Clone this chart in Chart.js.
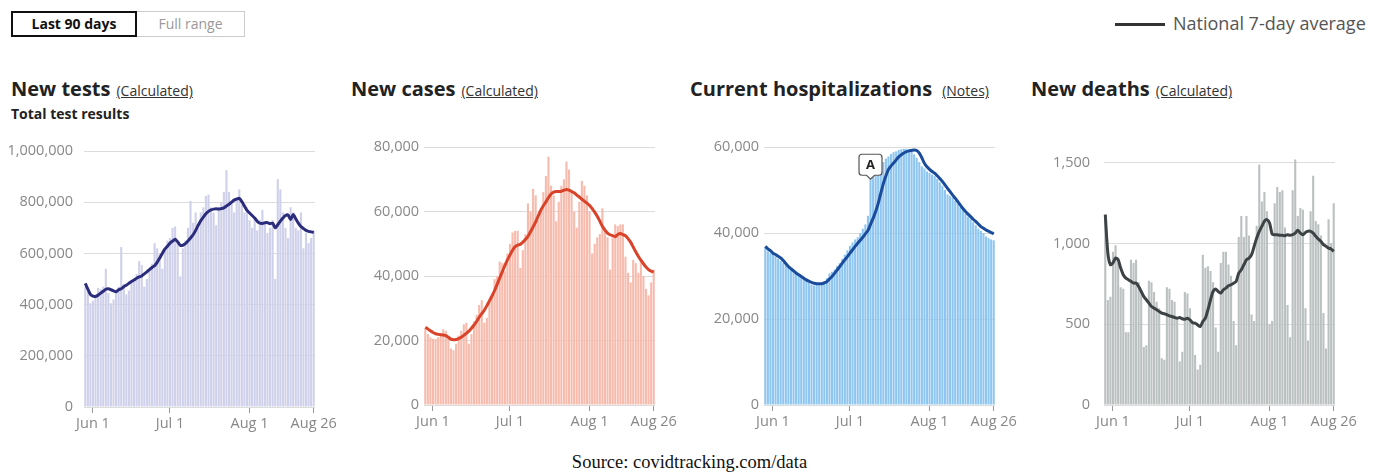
<!DOCTYPE html>
<html>
<head>
<meta charset="utf-8">
<script src="https://cdn.jsdelivr.net/npm/chart.js@4.4.1/dist/chart.umd.min.js"></script>
<style>
body{margin:0;width:1379px;height:475px;background:#fff;font-family:"Open Sans",sans-serif;position:relative;overflow:hidden}
.box{position:absolute;top:130px;width:345px;height:310px}
.t{position:absolute;top:75px;font-size:20px;font-weight:700;color:#222;white-space:nowrap}
.t span{font-size:14px;font-weight:400;color:#333;text-decoration:underline;margin-left:6px}
.sub{position:absolute;left:11px;top:104px;font-size:14px;font-weight:700;color:#222}
.b1{position:absolute;left:11px;top:11px;width:122px;height:22px;border:2px solid #111;font-size:14px;font-weight:700;color:#111;text-align:center;line-height:22px}
.b2{position:absolute;left:137px;top:11px;width:107px;height:24px;border:1px solid #ccc;border-left:none;font-size:14px;color:#999;text-align:center;line-height:24px}
.lg{position:absolute;left:1115px;top:23px;width:50px;height:2.5px;background:#333}
.lt{position:absolute;left:1173px;top:11px;font-size:18px;color:#555}
.src{position:absolute;left:0;top:452px;width:1379px;text-align:center;font-family:"Liberation Serif",serif;font-size:18.5px;color:#111}
</style>
</head>
<body>
<div class="b1">Last 90 days</div>
<div class="b2">Full range</div>
<div class="lg"></div>
<div class="lt">National 7-day average</div>

<div class="t" style="left:11px">New tests<span>(Calculated)</span></div>
<div class="sub">Total test results</div>
<div class="t" style="left:351px">New cases<span>(Calculated)</span></div>
<div class="t" style="left:690px">Current hospitalizations<span style="margin-left:10px">(Notes)</span></div>
<div class="t" style="left:1031px">New deaths<span>(Calculated)</span></div>

<div class="box" style="left:0px"><canvas id="c1"></canvas></div>
<div class="box" style="left:340px"><canvas id="c2"></canvas></div>
<div class="box" style="left:680px"><canvas id="c3"></canvas></div>
<!-- wider tick padding pushes the plot down, so this box starts a little higher -->
<div class="box" style="left:1020px;top:124px;height:316px"><canvas id="c4"></canvas></div>

<div class="src">Source: covidtracking.com/data</div>

<script>
// 90 days, May 29 - Aug 26 2020
const startDay = new Date(2020, 4, 29);
const monthNames = ["Jan","Feb","Mar","Apr","May","Jun","Jul","Aug","Sep","Oct","Nov","Dec"];
const tickDays = ["Jun 1","Jul 1","Aug 1","Aug 26"];

// new tests, thousands
const testsBars = [470,450,405,415,430,465,460,470,540,445,405,420,450,470,625,480,440,455,490,500,
520,570,555,470,500,530,560,640,620,600,540,610,650,660,700,705,650,510,620,650,
700,805,720,760,700,760,780,825,830,780,760,710,780,800,840,925,840,800,760,820,
850,790,760,780,730,700,740,690,730,770,720,680,700,730,500,890,850,760,700,660,
780,760,700,690,760,620,680,640,660,690];
const testsAvg = [483,460,440,433,432,437,445,452,460,462,458,454,450,458,462,470,476,483,490,496,
503,508,512,520,528,537,545,552,565,582,600,617,628,640,648,655,645,632,632,638,
648,660,673,690,710,728,742,755,764,770,773,774,773,775,778,785,792,800,808,812,
815,802,785,768,758,748,738,725,718,717,720,720,716,718,700,712,726,738,748,750,
732,752,735,718,705,697,690,686,684,682];
const testsTicks = [0,200000,400000,600000,800000,1000000];

// new cases, thousands
const casesBars = [23.5,22,21,20.5,20.5,21,22,23.5,23,21,17.5,17,19,21.5,23,25,25.5,19,22,26,
28,31,32.5,25.5,27,32,34.5,39,40,44.5,44,41.5,47,50,53.5,54,54,42.5,48,53,
62.5,60,67,65,57.5,60,66,71,77,68,65,57,63,68,70,75.5,73,66,60,55,
63,69.5,68,65,60,47,50,52,53,61,54,52,42,52,56,55.5,56,56,46,41,
38,45,44,41,45,40,36,34,38,42];
const casesAvg = [24.1,23.6,23.0,22.5,22.1,21.9,21.8,21.7,21.5,21.0,20.4,20.2,20.3,20.6,21.0,21.6,22.2,22.9,23.8,24.8,
25.9,27.2,28.3,29.4,30.8,32.3,33.8,35.5,37.4,39.4,41.3,43.2,45.0,46.5,48.0,49.1,49.6,49.8,50.5,51.3,
52.3,53.7,55.2,56.8,58.6,60.4,61.8,63.0,64.3,65.4,66.0,66.2,66.2,66.3,66.6,66.8,66.6,66.2,65.8,65.1,
64.5,63.8,63.2,62.6,61.9,60.9,59.8,58.5,57.0,55.4,54.2,53.3,52.8,52.5,52.2,52.9,53.2,52.8,52.5,51.6,
50.5,49.0,47.5,46.1,44.9,43.8,42.8,42.0,41.5,41.2];
const casesTicks = [0,20000,40000,60000,80000];

// current hospitalizations, thousands
const hospBars = [36.5,35.8,35.3,35.0,34.6,34.0,33.5,33.0,32.6,32.0,31.5,31.1,30.7,30.3,29.9,29.4,29.0,28.5,28.0,27.8,
27.9,28.1,28.3,28.8,29.5,30.6,31.0,31.5,32.3,33.0,34.0,35.0,36.0,37.0,37.8,38.5,39.0,40.0,41.0,42.0,
44.0,52.5,53.5,54.0,54.5,55.5,56.5,57.3,57.8,58.4,58.8,59.0,59.3,59.5,59.6,59.6,59.4,59.0,58.3,57.5,
56.5,55.5,55.0,54.3,54.0,53.6,53.2,52.6,51.8,51.0,50.0,49.0,48.6,48.2,47.5,46.8,46.0,45.3,44.5,43.8,
43.2,42.5,41.8,41.0,40.5,40.0,39.2,38.8,38.5,38.3];
const hospAvg = [36.9,36.3,35.9,35.3,35.0,34.6,34.2,33.6,32.9,32.2,31.7,31.2,30.7,30.3,29.9,29.5,29.1,28.8,28.5,28.3,
28.2,28.2,28.2,28.4,28.7,29.3,29.9,30.6,31.4,32.2,33.0,33.8,34.5,35.3,36.1,36.9,37.6,38.3,39.0,39.8,
40.6,42.0,43.4,45.0,46.9,49.2,51.5,53.3,54.8,55.6,56.3,57.0,57.7,58.2,58.6,58.9,59.1,59.2,59.3,59.2,
58.6,57.5,56.2,55.4,54.8,54.3,53.9,53.3,52.7,52.0,51.2,50.4,49.6,48.8,48.1,47.3,46.5,45.7,45.0,44.4,
43.8,43.2,42.7,42.1,41.5,41.1,40.7,40.4,40.1,39.8];
const hospTicks = [0,20000,40000,60000];
const noteIndex = 41;
const noteText = "A";

// new deaths
const deathsBars = [1180,650,670,950,990,880,730,720,450,450,900,880,900,760,700,360,370,770,760,700,
640,600,290,280,730,720,650,640,540,270,330,700,690,600,520,310,220,250,930,850,
860,830,760,480,330,880,950,950,870,800,520,370,1040,1170,1040,1170,1050,560,520,1110,
1490,1260,1320,1200,500,520,1250,1350,1320,1330,1100,620,420,1330,1520,1170,1220,1210,600,400,
1200,1420,1140,1120,1050,570,350,1150,1000,1250];
const deathsAvg = [1179,941,869,880,910,900,848,807,786,776,766,755,755,734,703,672,652,631,610,600,
590,579,569,565,559,552,548,542,538,542,534,531,538,527,510,507,496,486,517,538,
590,652,703,718,703,693,714,724,738,745,755,766,817,838,869,900,910,931,983,1034,
1076,1107,1138,1148,1128,1059,1055,1055,1051,1051,1049,1055,1051,1055,1065,1082,1065,1055,1069,1076,
1076,1065,1045,1028,1014,993,983,972,966,952];
const deathsTicks = [0,500,1000,1500];

const days = [];
for (let i = 0; i < testsBars.length; i++) {
  const d = new Date(startDay.getTime() + i * 86400000);
  days.push(monthNames[d.getMonth()] + " " + d.getDate());
}

// little "A" note flag sitting on the hospitalizations bar
const noteMark = {
  id: "noteMark",
  afterDatasetsDraw(chart) {
    if (chart.canvas.id !== "c3") return;
    const x = chart.scales.x.getPixelForValue(noteIndex);
    const y = chart.scales.y.getPixelForValue(hospBars[noteIndex] * 1000);
    const ctx = chart.ctx;
    const w = 23, h = 21, bottom = y - 4, top = bottom - h, l = x - w / 2, r = x + w / 2;
    ctx.save();
    ctx.beginPath();
    ctx.moveTo(l + 3, top);
    ctx.lineTo(r - 3, top);
    ctx.quadraticCurveTo(r, top, r, top + 3);
    ctx.lineTo(r, bottom - 3);
    ctx.quadraticCurveTo(r, bottom, r - 3, bottom);
    ctx.lineTo(x + 4, bottom);
    ctx.lineTo(x, y);
    ctx.lineTo(x - 4, bottom);
    ctx.lineTo(l + 3, bottom);
    ctx.quadraticCurveTo(l, bottom, l, bottom - 3);
    ctx.lineTo(l, top + 3);
    ctx.quadraticCurveTo(l, top, l + 3, top);
    ctx.closePath();
    ctx.fillStyle = "#fff";
    ctx.fill();
    ctx.lineWidth = 1.2;
    ctx.strokeStyle = "#555";
    ctx.stroke();
    ctx.fillStyle = "#222";
    ctx.font = "bold 13px 'Open Sans'";
    ctx.textAlign = "center";
    ctx.textBaseline = "middle";
    ctx.fillText(noteText, x, top + h / 2 + 1);
    ctx.restore();
  }
};

function drawPanel(id, bars, avg, mult, barColor, lineColor, yMax, yTicks, yPad, padTop, xH) {
  return new Chart(document.getElementById(id), {
    type: "bar",
    data: {
      labels: days,
      datasets: [
        {type: "line", data: avg.map(v => v * mult), borderColor: lineColor, borderWidth: 3,
         pointRadius: 0, tension: 0.25, order: 0},
        {data: bars.map(v => v * mult), backgroundColor: barColor, barPercentage: 0.82,
         categoryPercentage: 1, order: 1}
      ]
    },
    options: {
      responsive: true,
      maintainAspectRatio: false,
      animation: false,
      layout: {padding: {top: padTop, right: 30, bottom: 0, left: 0}},
      plugins: {legend: {display: false}, tooltip: {enabled: false}},
      scales: {
        x: {
          border: {display: false},
          grid: {drawOnChartArea: false, offset: false, tickLength: 6, color: "#999"},
          ticks: {
            autoSkip: false, maxRotation: 0, padding: 2, color: "#888",
            font: {family: "Open Sans", size: 14.5},
            callback: (v, i) => tickDays.includes(days[i]) ? days[i] : null
          },
          afterFit: s => { s.height = xH; }
        },
        y: {
          min: 0, max: yMax,
          border: {display: false},
          grid: {color: "#dcdcdc", drawTicks: false},
          ticks: {
            padding: yPad, color: "#888",
            font: {family: "Open Sans", size: 14.5},
            callback: v => yTicks.includes(v) ? v.toLocaleString("en-US") : null
          },
          afterBuildTicks: s => { s.ticks = yTicks.map(v => ({value: v})); },
          afterFit: s => { s.width = 84; }
        }
      }
    },
    plugins: [noteMark]
  });
}

drawPanel("c1", testsBars, testsAvg, 1000, "#cfd0ea", "#2b2d7c", 1000000, testsTicks, 11, 21, 33);
drawPanel("c2", casesBars, casesAvg, 1000, "#f7bbad", "#d9432a", 80000, casesTicks, 5, 17, 35);
drawPanel("c3", hospBars, hospAvg, 1000, "#8ec6f1", "#1b4c9c", 60000, hospTicks, 5, 17, 35);
drawPanel("c4", deathsBars, deathsAvg, 1, "#bbc0c0", "#3d4345", 1600, deathsTicks, 14, 17, 35);
</script>
</body>
</html>
